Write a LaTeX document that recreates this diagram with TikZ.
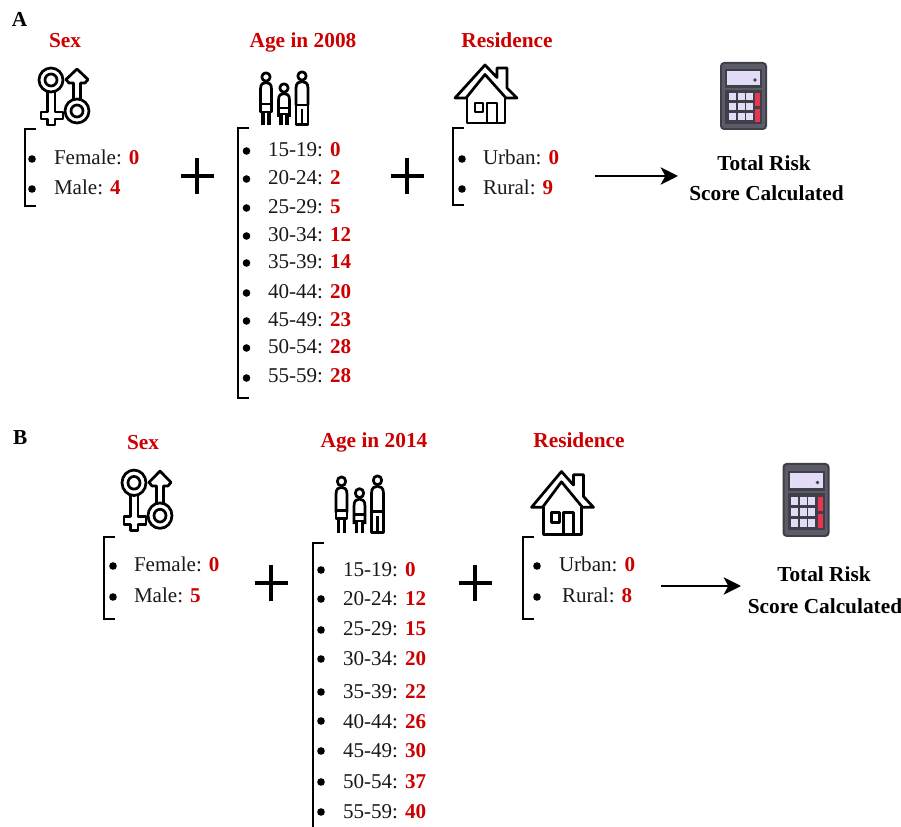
\documentclass[tikz,border=0pt]{standalone}
\usepackage{fontspec}
\setmainfont{Liberation Serif}
\usetikzlibrary{arrows.meta}
\definecolor{redtxt}{HTML}{CC0000}
\definecolor{calcdark}{HTML}{3F3F49}
\definecolor{calcmid}{HTML}{5C5C68}
\definecolor{calcscreen}{HTML}{E2DCF6}
\definecolor{calcred}{HTML}{EA3550}
\tikzset{
  plain/.style={inner sep=0pt,outer sep=0pt},
  itemtxt/.style={plain,anchor=base west,text=black!90,font=\fontsize{15.8}{18}\selectfont},
  headtxt/.style={plain,anchor=base,text=redtxt,font=\bfseries\fontsize{16}{18}\selectfont},
  paneltxt/.style={plain,anchor=base west,font=\bfseries\fontsize{16}{18}\selectfont},
  totaltxt/.style={plain,anchor=base,font=\bfseries\fontsize{16}{18}\selectfont},
  brk/.style={line width=1.6pt},
  plusline/.style={line width=2.4pt},
  flow/.style={line width=1.5pt,-{Stealth[length=13pt,width=13pt,inset=3.5pt]}},
  icon/.style={line width=2.05pt,line join=round},
  bul/.style={fill=black}
}
\newcommand{\rednum}[1]{\textcolor{redtxt}{\bfseries #1}}
% item: name, bullet x, bullet y, text x, baseline y, text, number
\newcommand{\itm}[7]{%
  \fill[bul] (#2,#3) circle[radius=3.8];
  \node[itemtxt] (#1) at (#4,#5) {#6: \rednum{#7}};}
\newcommand{\sqbr}[4]{\draw[brk] (#1+11,#2) -- (#1,#2) -- (#1,#3) #4;}
\newcommand{\plusmark}[2]{\draw[plusline] (#1-16.5,#2) -- (#1+16.5,#2) (#1,#2-18) -- (#1,#2+18);}
\newcommand{\sexicon}{%
  \draw[icon] (51,80) circle[radius=12] (51,80) circle[radius=6];
  \draw[icon] (47.5,91.5)--(47.5,112)--(41,112)--(41,119)--(47.5,119)--(47.5,125)--(55,125)--(55,119)--(63,119)--(63,112)--(55,112)--(55,91.5);
  \draw[icon] (77,111) circle[radius=12] (77,111) circle[radius=6];
  \draw[icon] (73.5,99.5)--(73.5,83)--(69,83)--(66,79.5)--(77,69)--(88,79.5)--(85,83)--(80.5,83)--(80.5,99.5);
}
\newcommand{\persondress}[3]{% cx, head y, body half-width
  \draw[icon] (#1,#2) circle[radius=4.2];
  \draw[icon] (#1-#3,#2+29) -- (#1-#3,#2+12) .. controls (#1-#3,#2+7) and (#1-3,#2+5.5) .. (#1,#2+5.5) .. controls (#1+3,#2+5.5) and (#1+#3,#2+7) .. (#1+#3,#2+12) -- (#1+#3,#2+29);
}
\newcommand{\familyicon}{%
  \persondress{266}{77}{5.5}
  \draw[icon] (260.5,104) -- (271.5,104) -- (271.5,112) -- (260.5,112) -- cycle;
  \draw[icon,line width=2.8pt] (263,112) -- (263,125) (269,112) -- (269,125);
  \persondress{284}{88}{5.5}
  \draw[icon] (278.5,108) -- (289.5,108) -- (289.5,114) -- (278.5,114) -- cycle;
  \draw[icon,line width=2.8pt] (281,114) -- (281,125) (287,114) -- (287,125);
  \persondress{302}{76}{6}
  \draw[icon] (296,105) -- (296,124.5) -- (308,124.5) -- (308,105) -- cycle;
  \draw[icon] (302,124) -- (302,109);
}
\newcommand{\houseicon}{%
  \draw[icon] (455,98)--(485,65)--(497,77.5)--(497,68)--(507,68)--(507,88)--(517,98)--(506,98)--(485,74.5)--(466,98)--cycle;
  \draw[icon] (467,98)--(467,123)--(505,123)--(505,98);
  \draw[icon] (475,103) rectangle (483,112);
  \draw[icon] (487,123)--(487,103)--(497,103)--(497,123);
}
\newcommand{\calcicon}{%
  \fill[calcdark,rounded corners=3pt] (720,62) rectangle (767,130);
  \fill[calcmid,rounded corners=2pt] (722,64) rectangle (765,128);
  \fill[calcdark] (725,69) rectangle (762,88);
  \fill[calcscreen] (727,71) rectangle (760,85);
  \fill[calcdark] (755,80) circle[radius=1.8];
  \fill[calcdark] (725,90) rectangle (762,124);
  \foreach \kx in {732,741,749}{\foreach \ky in {97,107,117}{
    \fill[calcscreen] (\kx-3.5,\ky-3.5) rectangle (\kx+3.5,\ky+3.5);}}
  \fill[calcred] (755,93) rectangle (760,106);
  \fill[calcred] (755,109) rectangle (760,122);
}
\begin{document}
\begin{tikzpicture}[x=0.75pt,y=-0.75pt]
\useasboundingbox (0,0) rectangle (901,827);
% ---------- Panel A
\node[paneltxt] (pa) at (12,27) {A};
\node[headtxt] (ha1) at (65,48) {Sex};
\node[headtxt] (ha2) at (303,48) {Age in 2008};
\node[headtxt] (ha3) at (507,48) {Residence};
\sexicon
\familyicon
\houseicon
\calcicon
\sqbr{25}{129}{206}{-- (36,206)}
\itm{af}{32}{159}{54}{165}{Female}{0}
\itm{am}{32}{189}{54}{195}{Male}{4}
\plusmark{197}{176}
\sqbr{238}{128}{398}{-- (249,398)}
\itm{aa1}{246.5}{151}{268}{157}{15-19}{0}
\itm{aa2}{246.5}{179}{268}{185}{20-24}{2}
\itm{aa3}{246.5}{208}{268}{214}{25-29}{5}
\itm{aa4}{246.5}{236}{268}{242}{30-34}{12}
\itm{aa5}{246.5}{263}{268}{269}{35-39}{14}
\itm{aa6}{246.5}{293}{268}{299}{40-44}{20}
\itm{aa7}{246.5}{321}{268}{327}{45-49}{23}
\itm{aa8}{246.5}{348}{268}{354}{50-54}{28}
\itm{aa9}{246.5}{378}{268}{383}{55-59}{28}
\plusmark{407}{176}
\sqbr{453}{128}{205}{-- (464,205)}
\itm{au}{462}{159}{483}{165}{Urban}{0}
\itm{ar}{462}{189}{483}{195}{Rural}{9}
\coordinate (asrc) at (595,176);
\coordinate (adst) at (678,176);
\draw[flow] (asrc) -- (adst);
\node[totaltxt] (at1) at (764,171) {Total Risk};
\node[totaltxt] (at2) at (766.5,201) {Score Calculated};
% ---------- Panel B
\node[paneltxt] (pb) at (13,445) {B};
\node[headtxt] (hb1) at (143,450) {Sex};
\node[headtxt] (hb2) at (374,448) {Age in 2014};
\node[headtxt] (hb3) at (579,448) {Residence};
\begin{scope}[shift={(83,398)},yscale=1.06]\sexicon\end{scope}
\begin{scope}[shift={(75.5,399)},yscale=1.07]\familyicon\end{scope}
\begin{scope}[shift={(76.5,401)},yscale=1.085]\houseicon\end{scope}
\begin{scope}[shift={(62.5,395.5)},yscale=1.088]\calcicon\end{scope}
\sqbr{104}{537}{619}{-- (115,619)}
\itm{bf}{113}{566}{134}{572}{Female}{0}
\itm{bm}{113}{597}{134}{603}{Male}{5}
\plusmark{271}{583}
\sqbr{313}{543}{827}{}
\itm{ba1}{321}{570}{343}{576}{15-19}{0}
\itm{ba2}{321}{599}{343}{606}{20-24}{12}
\itm{ba3}{321}{630}{343}{635}{25-29}{15}
\itm{ba4}{321}{659}{343}{666}{30-34}{20}
\itm{ba5}{321}{692}{343}{698}{35-39}{22}
\itm{ba6}{321}{721}{343}{728}{40-44}{26}
\itm{ba7}{321}{751}{343}{757}{45-49}{30}
\itm{ba8}{321}{782}{343}{788}{50-54}{37}
\itm{ba9}{321}{812}{343}{818}{55-59}{40}
\plusmark{475}{583}
\sqbr{523}{537}{619}{-- (534,619)}
\itm{bu}{537}{566}{559}{572}{Urban}{0}
\itm{br}{537}{597}{562}{603}{Rural}{8}
\coordinate (bsrc) at (661,586);
\coordinate (bdst) at (741,586);
\draw[flow] (bsrc) -- (bdst);
\node[totaltxt] (bt1) at (824,582) {Total Risk};
\node[totaltxt] (bt2) at (825,614) {Score Calculated};
\end{tikzpicture}
\end{document}
